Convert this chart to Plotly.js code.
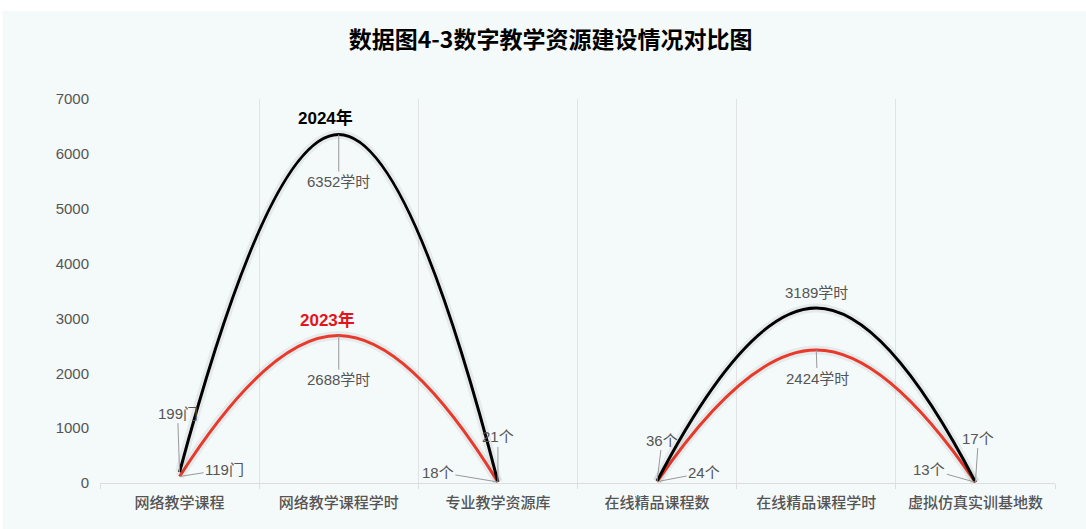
<!DOCTYPE html>
<html>
<head>
<meta charset="utf-8">
<script src="https://cdn.plot.ly/plotly-3.0.1.min.js"></script>
<style>html,body{margin:0;padding:0;background:#fff;}#chart{width:1086px;height:529px;}</style>
</head>
<body>
<div id="chart"></div>
<script>
// ---- data ----
var categories = ['网络教学课程', '网络教学课程学时', '专业教学资源库', '在线精品课程数', '在线精品课程学时', '虚拟仿真实训基地数'];
var values2024 = [199, 6352, 21, 36, 3189, 17];
var values2023 = [119, 2688, 18, 24, 2424, 13];
var units = ['门', '学时', '个', '个', '学时', '个'];
var seriesNames = ['2024年', '2023年'];
var yTicks = [0, 1000, 2000, 3000, 4000, 5000, 6000, 7000];
var segments = [[0, 3], [3, 6]];

// ---- styles ----
var colors = {'2024年': '#000000', '2023年': '#e8392b'};
var labelFont = {family: 'Liberation Sans, Arial, Noto Sans CJK SC, sans-serif', size: 15, color: '#555555'};
// label offsets (pixels) for each series/category: [ax, ay] or null for no arrow (yshift)
var offs2024 = [[-2, -59], [0, 47], [0, -45], [5, -41], null, [3, -44]];
var offs2023 = [[45, -7], [0, 44], [-60, -10], [47, -9], [1, 28], [-46, -13]];

var traces = [];
function addSeries(name, vals) {
  segments.forEach(function (seg) {
    // soft shadow under each line
    traces.push({
      type: 'scatter', mode: 'lines', showlegend: false, hoverinfo: 'skip',
      x: categories.slice(seg[0], seg[1]),
      y: vals.slice(seg[0], seg[1]),
      line: {color: 'rgba(0,0,0,0.06)', width: 9, shape: 'spline', smoothing: 1.3}
    });
    traces.push({
      type: 'scatter', mode: 'lines', name: name, showlegend: false,
      x: categories.slice(seg[0], seg[1]),
      y: vals.slice(seg[0], seg[1]),
      line: {color: colors[name], width: 3, shape: 'spline', smoothing: 1.3},
      hoverinfo: 'x+y'
    });
  });
}
addSeries('2023年', values2023);
addSeries('2024年', values2024);

var annotations = [];
function addLabels(vals, offs) {
  vals.forEach(function (v, i) {
    var o = offs[i];
    var a = {x: categories[i], y: v, xref: 'x', yref: 'y', text: v + units[i], font: labelFont};
    if (o) {
      a.showarrow = true; a.arrowhead = 0; a.arrowwidth = 1; a.arrowcolor = '#999999';
      a.ax = o[0]; a.ay = o[1]; a.standoff = 0;
    } else {
      a.showarrow = false; a.yshift = 16;
    }
    annotations.push(a);
  });
}
addLabels(values2024, offs2024);
addLabels(values2023, offs2023);

annotations.push({x: categories[1], y: values2024[1], xref: 'x', yref: 'y', showarrow: false,
  text: '<b>' + seriesNames[0] + '</b>', xshift: -13, yshift: 17,
  font: {family: 'Liberation Sans, Arial, Noto Sans CJK SC, sans-serif', size: 17, color: '#000000'}});
annotations.push({x: categories[1], y: values2023[1], xref: 'x', yref: 'y', showarrow: false,
  text: '<b>' + seriesNames[1] + '</b>', xshift: -11, yshift: 16,
  font: {family: 'Liberation Sans, Arial, Noto Sans CJK SC, sans-serif', size: 17, color: '#e3141b'}});

var layout = {
  width: 1086, height: 529,
  margin: {l: 100, r: 31, t: 99, b: 46},
  paper_bgcolor: '#ffffff',
  plot_bgcolor: 'rgba(0,0,0,0)',
  title: {
    text: '<b>数据图4-3数字教学资源建设情况对比图</b>',
    font: {family: 'Noto Sans CJK SC, sans-serif', size: 23, color: '#000000'},
    xref: 'container', x: 0.507, xanchor: 'center',
    yref: 'container', y: 0.924, yanchor: 'middle'
  },
  shapes: [{type: 'rect', xref: 'paper', yref: 'paper', x0: -0.102, x1: 1.1, y0: -0.2, y1: 1.229,
    fillcolor: '#f4f9f9', line: {width: 0}, layer: 'below'}],
  xaxis: {
    type: 'category', range: [-0.5, 5.5],
    tickson: 'boundaries', ticks: 'outside', ticklen: 5, tickcolor: '#dddddd',
    ticklabelstandoff: 6,
    showgrid: true, gridcolor: '#e2e4e4', gridwidth: 1,
    showline: true, linecolor: '#dddddd', linewidth: 1,
    tickfont: {family: 'Noto Sans CJK SC, sans-serif', size: 15, color: '#555555', weight: 500},
    fixedrange: true
  },
  yaxis: {
    range: [0, 7000], tickvals: yTicks, showgrid: false, zeroline: false, showline: false,
    ticks: '', ticklabelstandoff: 10,
    tickfont: {family: 'Liberation Sans, Arial, sans-serif', size: 15, color: '#555555'},
    fixedrange: true
  },
  annotations: annotations,
  showlegend: false
};

Plotly.newPlot('chart', traces, layout, {displayModeBar: false, staticPlot: true});
</script>
</body>
</html>
